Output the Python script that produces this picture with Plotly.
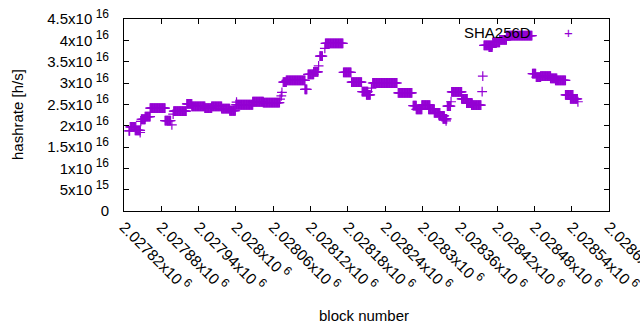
import plotly.graph_objects as go

# Runs of blocks with a constant hashrate estimate (values in units of 1e16 h/s)
run_start = [2027828, 2027830, 2027838, 2027846, 2027847, 2027848, 2027854, 2027862, 2027886, 2027897,
             2027899, 2027900, 2027921, 2027929, 2027950, 2027961, 2027977, 2027990, 2028001, 2028000,
             2028027, 2028044, 2028071, 2028073, 2028074, 2028076, 2028081, 2028111, 2028116, 2028125,
             2028133, 2028135, 2028143, 2028144, 2028173, 2028186, 2028203, 2028210, 2028218, 2028220,
             2028261, 2028285, 2028290, 2028299, 2028310, 2028319, 2028327, 2028333, 2028338, 2028340,
             2028346, 2028347, 2028363, 2028371, 2028379, 2028396, 2028397, 2028399, 2028407, 2028413,
             2028424, 2028435, 2028477, 2028483, 2028490, 2028506, 2028514, 2028530, 2028538, 2028550]
run_end = [2027829, 2027839, 2027846, 2027846, 2027847, 2027854, 2027862, 2027886, 2027895, 2027897,
           2027899, 2027920, 2027929, 2027950, 2027961, 2027977, 2027990, 2027999, 2028001, 2028027,
           2028044, 2028070, 2028071, 2028073, 2028074, 2028081, 2028111, 2028114, 2028125, 2028132,
           2028133, 2028139, 2028143, 2028172, 2028185, 2028202, 2028212, 2028216, 2028218, 2028259,
           2028283, 2028290, 2028299, 2028312, 2028319, 2028328, 2028335, 2028339, 2028338, 2028345,
           2028346, 2028363, 2028372, 2028380, 2028394, 2028396, 2028397, 2028412, 2028412, 2028424,
           2028435, 2028476, 2028482, 2028490, 2028506, 2028516, 2028530, 2028542, 2028549, 2028550]
run_value = [1.88, 1.97, 1.89, 1.84, 2.10, 2.15, 2.21, 2.41, 2.12, 2.02,
             2.27, 2.34, 2.51, 2.45, 2.41, 2.45, 2.40, 2.35, 2.55, 2.49,
             2.56, 2.54, 2.62, 2.70, 2.78, 3.02, 3.06, 2.85, 3.20, 3.26,
             3.40, 3.63, 3.81, 3.93, 3.25, 3.02, 2.80, 2.72, 2.88, 3.00,
             2.77, 2.47, 2.38, 2.48, 2.38, 2.30, 2.23, 2.16, 2.11, 2.46,
             2.56, 2.79, 2.63, 2.53, 2.48, 2.80, 3.16, 3.88, 3.84, 3.95,
             4.01, 4.11, 3.22, 3.14, 3.16, 3.11, 3.06, 2.72, 2.63, 2.56]

x_tick_vals = [2027820, 2027880, 2027940, 2028000, 2028060, 2028120, 2028180,
               2028240, 2028300, 2028360, 2028420, 2028480, 2028540, 2028600]
x_tick_mant = ["2.02782", "2.02788", "2.02794", "2.028", "2.02806", "2.02812", "2.02818",
               "2.02824", "2.0283", "2.02836", "2.02842", "2.02848", "2.02854", "2.0286"]
x_tick_exp = "6"
y_tick_vals = [0, 0.5, 1, 1.5, 2, 2.5, 3, 3.5, 4, 4.5]
y_tick_mant = ["0", "5", "1", "1.5", "2", "2.5", "3", "3.5", "4", "4.5"]
y_tick_exp = ["", "15", "16", "16", "16", "16", "16", "16", "16", "16"]


def sci(mant, exp):
    if not exp:
        return mant
    return f"{mant}x10<sup><span style='font-size:12px'> {exp}</span></sup>"


x_tick_text = [sci(m, x_tick_exp) for m in x_tick_mant]
y_tick_text = [sci(m, e) for m, e in zip(y_tick_mant, y_tick_exp)]

blocks, rates = [], []
for s, e, v in zip(run_start, run_end, run_value):
    for b in range(s, e + 1):
        blocks.append(b)
        rates.append(v)

PURPLE = "#9400D3"
FONT = "Liberation Sans, Arial, sans-serif"

fig = go.Figure()
fig.add_trace(go.Scatter(
    x=blocks, y=rates, mode="markers", name="SHA256D", showlegend=False,
    marker=dict(symbol="cross-thin", size=7, line=dict(width=1.2, color=PURPLE), color=PURPLE),
))

fig.update_layout(
    width=640, height=330,
    margin=dict(l=124, r=31, t=19, b=119, autoexpand=False),
    paper_bgcolor="white", plot_bgcolor="white",
    font=dict(family=FONT, size=15, color="black"),
    xaxis=dict(range=[2027820, 2028600], tickvals=x_tick_vals, ticktext=x_tick_text,
               tickangle=45, ticks="inside", ticklen=5, tickcolor="black",
               tickfont=dict(size=15.5), ticklabeloverflow="allow",
               showline=True, linecolor="black", linewidth=1, mirror="ticks",
               showgrid=False, zeroline=False, automargin=False),
    yaxis=dict(range=[0, 4.5], tickvals=y_tick_vals, ticktext=y_tick_text,
               ticks="inside", ticklen=5, tickcolor="black", ticklabelstandoff=11,
               showline=True, linecolor="black", linewidth=1, mirror="ticks",
               showgrid=False, zeroline=False, automargin=False),
    annotations=[
        dict(text="block number", xref="paper", yref="paper", x=0.495, y=-0.542,
             showarrow=False, xanchor="center", yanchor="middle", font=dict(size=15)),
        dict(text="hashrate [h/s]", xref="paper", yref="paper", x=-0.2206, y=0.5,
             textangle=-90, showarrow=False, xanchor="center", yanchor="middle", font=dict(size=15)),
        dict(text="SHA256D", xref="paper", yref="paper", x=(533 - 124) / 485, y=(211 - 32) / 192,
             showarrow=False, xanchor="right", yanchor="middle", font=dict(size=15)),
        dict(text="+", xref="paper", yref="paper", x=(568 - 124) / 485, y=(211 - 32) / 192,
             showarrow=False, xanchor="center", yanchor="middle", font=dict(size=15, color=PURPLE)),
    ],
)

fig.write_html("out.html", config={"displayModeBar": False},
               post_script="document.body.style.margin='0';document.body.style.overflow='hidden';")
